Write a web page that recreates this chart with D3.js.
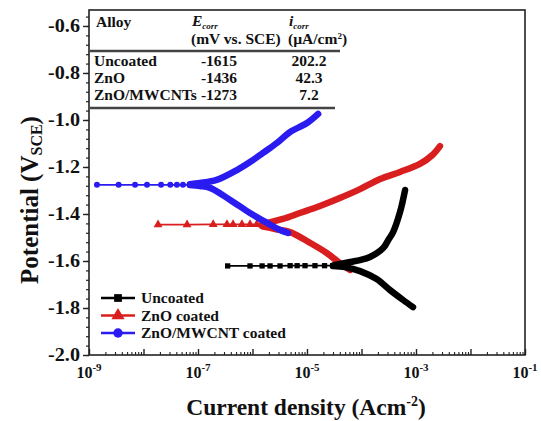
<!DOCTYPE html>
<html><head><meta charset="utf-8">
<script src="https://cdn.jsdelivr.net/npm/d3@7"></script>
<style>
html,body{margin:0;padding:0;background:#fff;}
svg text{font-family:'Liberation Serif','Times New Roman',serif;font-weight:bold;fill:#111;}
</style></head>
<body><svg id="c" width="541" height="421"></svg>
<script>
// ---------- data: [current density (A/cm2), potential (V vs SCE)] ----------
const uncoatedCathodic = [[8.8e-4,-1.796],[5.8e-4,-1.766],[3.3e-4,-1.723],[1.9e-4,-1.677],[9.4e-5,-1.643],[5.0e-5,-1.626],[3.0e-5,-1.621]];
const uncoatedTail     = [[3.0e-5,-1.620],[2.1e-5,-1.620],[1.4e-5,-1.620],[9.2e-6,-1.620],[6.6e-6,-1.620],[4.9e-6,-1.620],[3.2e-6,-1.621],[2.1e-6,-1.621],[1.5e-6,-1.621],[9.0e-7,-1.621],[3.5e-7,-1.621]];
const uncoatedAnodic   = [[3.0e-5,-1.619],[6.2e-5,-1.604],[9.4e-5,-1.596],[1.43e-4,-1.583],[2.5e-4,-1.545],[3.1e-4,-1.511],[3.8e-4,-1.477],[5.1e-4,-1.391],[6.3e-4,-1.298]];

const znoCathodic = [[6.2e-5,-1.638],[4.0e-5,-1.609],[2.3e-5,-1.566],[1.14e-5,-1.523],[4.9e-6,-1.477],[2.6e-6,-1.464],[1.5e-6,-1.452]];
const znoTail     = [[1.5e-6,-1.446],[1.2e-6,-1.444],[9.0e-7,-1.444],[6.4e-7,-1.444],[4.4e-7,-1.444],[3.4e-7,-1.444],[1.9e-7,-1.444],[6.3e-8,-1.445],[1.85e-8,-1.445]];
const znoAnodic   = [[1.5e-6,-1.444],[3.6e-6,-1.421],[7.4e-6,-1.396],[1.73e-5,-1.366],[4.0e-5,-1.332],[9.4e-5,-1.294],[2.2e-4,-1.251],[5.1e-4,-1.221],[1.18e-3,-1.187],[2.0e-3,-1.149],[2.75e-3,-1.111]];

const cntCathodic = [[4.5e-6,-1.481],[3.2e-6,-1.468],[1.85e-6,-1.438],[9.0e-7,-1.396],[3.9e-7,-1.340],[1.66e-7,-1.289],[1.09e-7,-1.281],[7.1e-8,-1.277]];
const cntTail     = [[7.1e-8,-1.276],[5.3e-8,-1.276],[4.1e-8,-1.276],[3.1e-8,-1.276],[2.1e-8,-1.276],[1.16e-8,-1.276],[7.0e-9,-1.276],[3.5e-9,-1.276],[1.4e-9,-1.276]];
const cntAnodic   = [[7.1e-8,-1.273],[1.09e-7,-1.268],[2.2e-7,-1.255],[5.2e-7,-1.213],[9.0e-7,-1.179],[1.56e-6,-1.140],[2.8e-6,-1.098],[4.9e-6,-1.051],[1.0e-5,-1.013],[1.6e-5,-0.974]];

const legendLabels = ["Uncoated","ZnO coated","ZnO/MWCNT coated"];
const seriesColors = ["#000000","#d81e1e","#2a1cf0"];

const tableAlloys = ["Uncoated","ZnO","ZnO/MWCNTs"];
const tableEcorr  = [-1615,-1436,-1273];
const tableIcorr  = [202.2,42.3,7.2];

const yTicks = [-0.6,-0.8,-1.0,-1.2,-1.4,-1.6,-1.8,-2.0];
const xTickExps = [-9,-7,-5,-3,-1];

// ---------- layout ----------
const FONT = "'Liberation Serif','Times New Roman',serif";
const svg = d3.select("#c");
const L=89, R=525, T=10, B=355;
const x = d3.scaleLog().domain([1e-9,1e-1]).range([L,R]);
const y = d3.scaleLinear().domain([-2.0,-0.532]).range([B,T]);

// axes
const yMinor = d3.range(-2.0,-0.52,0.04).map(v=>+v.toFixed(2));
svg.append("g").attr("transform",`translate(${L},0)`)
  .call(d3.axisLeft(y).tickValues(yMinor).tickSize(3).tickFormat(""))
  .call(g=>g.select(".domain").remove())
  .selectAll("line").attr("stroke","#222").attr("stroke-width",1.2);
svg.append("g").attr("transform",`translate(${L},0)`)
  .call(d3.axisLeft(y).tickValues(yTicks).tickSize(6).tickFormat(""))
  .call(g=>g.select(".domain").remove())
  .selectAll("line").attr("stroke","#222").attr("stroke-width",1.4);

const xMajor = d3.range(-9,0).map(e=>Math.pow(10,e));
const xMinor = [];
for(let e=-9;e<-1;e++) for(let k=2;k<=9;k++) xMinor.push(k*Math.pow(10,e));
svg.append("g").attr("transform",`translate(0,${B})`)
  .call(d3.axisBottom(x).tickValues(xMinor).tickSize(-3).tickFormat(""))
  .call(g=>g.select(".domain").remove())
  .selectAll("line").attr("stroke","#222").attr("stroke-width",1.1);
svg.append("g").attr("transform",`translate(0,${B})`)
  .call(d3.axisBottom(x).tickValues(xMajor).tickSize(-6).tickFormat(""))
  .call(g=>g.select(".domain").remove())
  .selectAll("line").attr("stroke","#222").attr("stroke-width",1.4);

// tick labels
svg.append("g").selectAll("text").data(yTicks).join("text")
  .attr("font-family",FONT).attr("font-weight","bold")
  .attr("transform",d=>`translate(${L-9},${y(d)}) scale(1.12,1)`).attr("dy","0.35em")
  .attr("text-anchor","end").attr("font-size",18)
  .text(d=>d.toFixed(1));
const xl = svg.append("g").selectAll("text").data(xTickExps).join("text")
  .attr("font-family",FONT).attr("font-weight","bold")
  .attr("x",d=>x(Math.pow(10,d))).attr("y",378)
  .attr("text-anchor","middle").attr("font-size",16);
xl.append("tspan").text("10");
xl.append("tspan").attr("font-size",11).attr("dy",-7).text(d=>"-"+Math.abs(d));

// frame
svg.append("rect").attr("x",L).attr("y",T).attr("width",R-L).attr("height",B-T)
  .attr("fill","none").attr("stroke","#222").attr("stroke-width",1.6);

// axis titles
const xt = svg.append("text").attr("font-family",FONT).attr("font-weight","bold")
  .attr("x",306).attr("y",415).attr("text-anchor","middle").attr("font-size",23.5);
xt.append("tspan").text("Current density (Acm");
xt.append("tspan").attr("font-size",14).attr("dy",-9).text("-2");
xt.append("tspan").attr("dy",9).text(")");

const yt = svg.append("text").attr("font-family",FONT).attr("font-weight","bold")
  .attr("transform","translate(38,200) rotate(-90)")
  .attr("text-anchor","middle").attr("font-size",25);
yt.append("tspan").text("Potential (V");
yt.append("tspan").attr("font-size",16).attr("dy",4).text("SCE");
yt.append("tspan").attr("dy",-4).text(")");

// ---------- curves ----------
const thick = d3.line().x(d=>x(d[0])).y(d=>y(d[1])).curve(d3.curveCatmullRom.alpha(0.5));
const thin  = d3.line().x(d=>x(d[0])).y(d=>y(d[1]));
const plot = svg.append("g");

function drawSeries(cath, tail, anod, color, shape){
  const g = plot.append("g");
  g.append("path").attr("d",thin(tail)).attr("fill","none").attr("stroke",color).attr("stroke-width",1.7);
  const sym = d3.symbol().type(shape).size(shape===d3.symbolTriangle?34:28);
  g.selectAll("path.m").data(tail).join("path").attr("class","m")
    .attr("transform",d=>`translate(${x(d[0])},${y(d[1])})`)
    .attr("d",sym()).attr("fill",color);
  [cath,anod].forEach(arr=>{
    g.append("path").attr("d",thick(arr)).attr("fill","none").attr("stroke",color)
      .attr("stroke-width",6.5).attr("stroke-linecap","round").attr("stroke-linejoin","round");
  });
}
drawSeries(znoCathodic, znoTail, znoAnodic, seriesColors[1], d3.symbolTriangle);
drawSeries(uncoatedCathodic, uncoatedTail, uncoatedAnodic, seriesColors[0], d3.symbolSquare);
drawSeries(cntCathodic, cntTail, cntAnodic, seriesColors[2], d3.symbolCircle);

// ---------- legend ----------
const shapes = [d3.symbolSquare, d3.symbolTriangle, d3.symbolCircle];
const lg = svg.append("g").selectAll("g").data(legendLabels).join("g")
  .attr("transform",(d,i)=>`translate(0,${298+i*17.5})`);
lg.append("line").attr("x1",101).attr("x2",135).attr("y1",0).attr("y2",0)
  .attr("stroke",(d,i)=>seriesColors[i]).attr("stroke-width",2.5);
lg.append("path").attr("transform","translate(118,0)")
  .attr("d",(d,i)=>d3.symbol().type(shapes[i]).size(i===1?75:(i===2?70:60))())
  .attr("fill",(d,i)=>seriesColors[i]);
lg.append("text").attr("font-family",FONT).attr("font-weight","bold")
  .attr("x",141).attr("y",0).attr("dy","0.35em").attr("font-size",15.5).text(d=>d);

// ---------- table ----------
const tb = svg.append("g").attr("font-size",15.5);
function tt(xx,yy){ return tb.append("text").attr("font-family",FONT).attr("font-weight","bold").attr("x",xx).attr("y",yy); }
tt(96,27).text("Alloy");
const h1 = tt(192,26).attr("font-style","italic").attr("font-weight","normal");
h1.append("tspan").text("E");
h1.append("tspan").attr("font-size",9).attr("dy",3).text("corr");
tt(191,44).text("(mV vs. SCE)");
const h2 = tt(289,26).attr("font-style","italic").attr("font-weight","normal");
h2.append("tspan").text("i");
h2.append("tspan").attr("font-size",9).attr("dy",3).text("corr");
const h3 = tt(288,44);
h3.append("tspan").text("(\u00B5A/cm");
h3.append("tspan").attr("font-size",9).attr("dy",-5).text("2");
h3.append("tspan").attr("dy",5).text(")");
tb.append("line").attr("x1",90).attr("x2",340).attr("y1",51).attr("y2",51).attr("stroke","#444").attr("stroke-width",2.4);
tb.append("line").attr("x1",90).attr("x2",335).attr("y1",108).attr("y2",108).attr("stroke","#444").attr("stroke-width",2.4);
tableAlloys.forEach((a,i)=>{
  const yy = 66 + i*17;
  tt(94,yy).text(a);
  tt(219,yy).attr("text-anchor","middle").text(String(tableEcorr[i]));
  tt(309,yy).attr("text-anchor","middle").text(tableIcorr[i].toFixed(1));
});
</script></body></html>
